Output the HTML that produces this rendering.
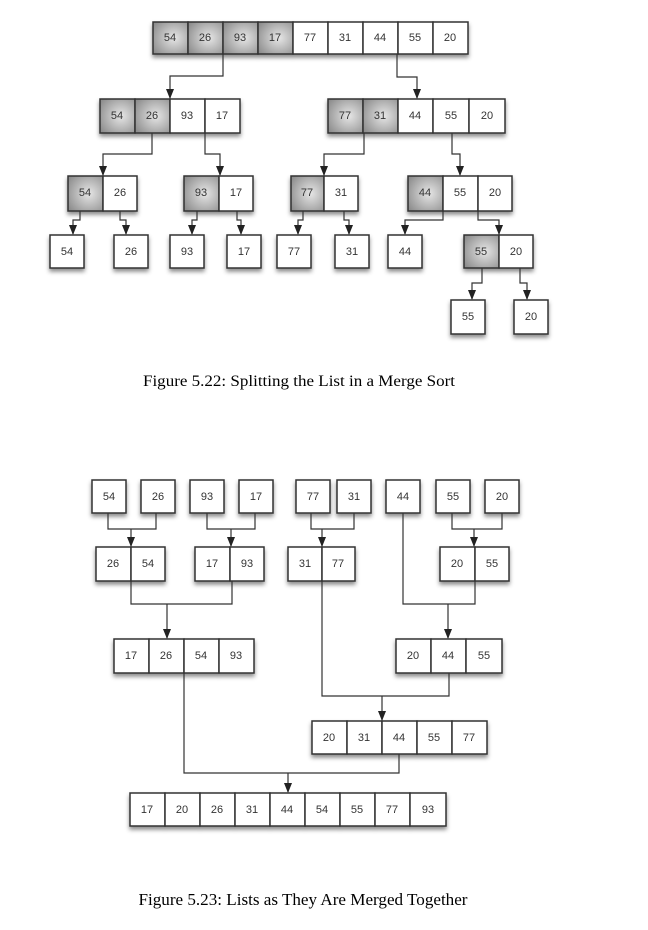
<!DOCTYPE html>
<html><head><meta charset="utf-8"><style>
html,body{margin:0;padding:0;background:#fff;}
svg{display:block;}
.c{stroke:#333;stroke-width:1.5;fill:#fff;}
.s{stroke:#333;stroke-width:1.5;fill:url(#g);}
text{font-family:"Liberation Sans",sans-serif;font-size:11px;fill:#333;text-anchor:middle;dominant-baseline:central;}
.l{fill:none;stroke:#333;stroke-width:1.2;}
.cap{font-family:"Liberation Serif",serif;fill:#000;dominant-baseline:auto;}
.b{filter:url(#sh);}
</style></head><body>
<svg width="648" height="930" viewBox="0 0 648 930" xmlns="http://www.w3.org/2000/svg">
<defs>
<radialGradient id="g" cx="0.6" cy="0.5" r="0.7"><stop offset="0" stop-color="#e6e6e6"/><stop offset="1" stop-color="#8e8e8e"/></radialGradient>
<filter id="sh" x="-10%" y="-10%" width="130%" height="150%"><feDropShadow dx="0" dy="3" stdDeviation="2" flood-color="#000" flood-opacity="0.45"/></filter>
<marker id="a" markerWidth="8" markerHeight="10" refX="4" refY="9" orient="0" markerUnits="userSpaceOnUse"><path d="M0,0 L8,0 L4,10 z" fill="#222"/></marker>
</defs>

<!-- FIGURE 1 -->
<g class="b">
<rect class="s" x="153" y="22" width="35" height="32"/><rect class="s" x="188" y="22" width="35" height="32"/><rect class="s" x="223" y="22" width="35" height="32"/><rect class="s" x="258" y="22" width="35" height="32"/>
<rect class="c" x="293" y="22" width="35" height="32"/><rect class="c" x="328" y="22" width="35" height="32"/><rect class="c" x="363" y="22" width="35" height="32"/><rect class="c" x="398" y="22" width="35" height="32"/><rect class="c" x="433" y="22" width="35" height="32"/>
</g>
<text x="170" y="38">54</text><text x="205" y="38">26</text><text x="240" y="38">93</text><text x="275" y="38">17</text><text x="310" y="38">77</text><text x="345" y="38">31</text><text x="380" y="38">44</text><text x="415" y="38">55</text><text x="450" y="38">20</text>

<path class="l" d="M223,54 V76 H170 V98" marker-end="url(#a)"/>
<path class="l" d="M397,54 V77 H417 V98" marker-end="url(#a)"/>

<g class="b">
<rect class="s" x="100" y="99" width="35" height="34"/><rect class="s" x="135" y="99" width="35" height="34"/><rect class="c" x="170" y="99" width="35" height="34"/><rect class="c" x="205" y="99" width="35" height="34"/>
<rect class="s" x="328" y="99" width="35" height="34"/><rect class="s" x="363" y="99" width="35" height="34"/><rect class="c" x="398" y="99" width="35" height="34"/><rect class="c" x="433" y="99" width="36" height="34"/><rect class="c" x="469" y="99" width="36" height="34"/>
</g>
<text x="117" y="116">54</text><text x="152" y="116">26</text><text x="187" y="116">93</text><text x="222" y="116">17</text>
<text x="345" y="116">77</text><text x="380" y="116">31</text><text x="415" y="116">44</text><text x="451" y="116">55</text><text x="487" y="116">20</text>

<path class="l" d="M152,133 V154 H103 V175" marker-end="url(#a)"/>
<path class="l" d="M205,133 V154 H220 V175" marker-end="url(#a)"/>
<path class="l" d="M364,133 V154 H324 V175" marker-end="url(#a)"/>
<path class="l" d="M452,133 V154 H460 V175" marker-end="url(#a)"/>

<g class="b">
<rect class="s" x="68" y="176" width="35" height="35"/><rect class="c" x="103" y="176" width="34" height="35"/>
<rect class="s" x="184" y="176" width="35" height="35"/><rect class="c" x="219" y="176" width="34" height="35"/>
<rect class="s" x="291" y="176" width="33" height="35"/><rect class="c" x="324" y="176" width="34" height="35"/>
<rect class="s" x="408" y="176" width="35" height="35"/><rect class="c" x="443" y="176" width="35" height="35"/><rect class="c" x="478" y="176" width="34" height="35"/>
</g>
<text x="85" y="193">54</text><text x="120" y="193">26</text><text x="201" y="193">93</text><text x="236" y="193">17</text>
<text x="307" y="193">77</text><text x="341" y="193">31</text><text x="425" y="193">44</text><text x="460" y="193">55</text><text x="495" y="193">20</text>

<path class="l" d="M80,211 V220 H73 V234" marker-end="url(#a)"/>
<path class="l" d="M120,211 V220 H126 V234" marker-end="url(#a)"/>
<path class="l" d="M197,211 V220 H192 V234" marker-end="url(#a)"/>
<path class="l" d="M237,211 V220 H241 V234" marker-end="url(#a)"/>
<path class="l" d="M303,211 V220 H298 V234" marker-end="url(#a)"/>
<path class="l" d="M344,211 V220 H349 V234" marker-end="url(#a)"/>
<path class="l" d="M443,211 V220 H405 V234" marker-end="url(#a)"/>
<path class="l" d="M478,211 V220 H499 V234" marker-end="url(#a)"/>

<g class="b">
<rect class="c" x="50" y="235" width="34" height="33"/><rect class="c" x="114" y="235" width="34" height="33"/><rect class="c" x="170" y="235" width="34" height="33"/><rect class="c" x="227" y="235" width="34" height="33"/><rect class="c" x="277" y="235" width="34" height="33"/><rect class="c" x="335" y="235" width="34" height="33"/><rect class="c" x="388" y="235" width="34" height="33"/>
<rect class="s" x="464" y="235" width="35" height="33"/><rect class="c" x="499" y="235" width="34" height="33"/>
</g>
<text x="67" y="252">54</text><text x="131" y="252">26</text><text x="187" y="252">93</text><text x="244" y="252">17</text><text x="294" y="252">77</text><text x="352" y="252">31</text><text x="405" y="252">44</text><text x="481" y="252">55</text><text x="516" y="252">20</text>

<path class="l" d="M482,268 V283 H472 V299" marker-end="url(#a)"/>
<path class="l" d="M520,268 V283 H527 V299" marker-end="url(#a)"/>

<g class="b">
<rect class="c" x="451" y="300" width="34" height="34"/><rect class="c" x="514" y="300" width="34" height="34"/>
</g>
<text x="468" y="317">55</text><text x="531" y="317">20</text>

<text class="cap" x="299" y="386" style="font-size:16px" textLength="312" lengthAdjust="spacingAndGlyphs">Figure 5.22: Splitting the List in a Merge Sort</text>

<!-- FIGURE 2 -->
<g class="b">
<rect class="c" x="92" y="480" width="34" height="33"/><rect class="c" x="141" y="480" width="34" height="33"/><rect class="c" x="190" y="480" width="34" height="33"/><rect class="c" x="239" y="480" width="34" height="33"/><rect class="c" x="296" y="480" width="34" height="33"/><rect class="c" x="337" y="480" width="34" height="33"/><rect class="c" x="386" y="480" width="34" height="33"/><rect class="c" x="436" y="480" width="34" height="33"/><rect class="c" x="485" y="480" width="34" height="33"/>
</g>
<text x="109" y="497">54</text><text x="158" y="497">26</text><text x="207" y="497">93</text><text x="256" y="497">17</text><text x="313" y="497">77</text><text x="354" y="497">31</text><text x="403" y="497">44</text><text x="453" y="497">55</text><text x="502" y="497">20</text>

<path class="l" d="M108,513 V529 H156 V513"/><path class="l" d="M131,529 V546" marker-end="url(#a)"/>
<path class="l" d="M207,513 V529 H255 V513"/><path class="l" d="M231,529 V546" marker-end="url(#a)"/>
<path class="l" d="M311,513 V529 H354 V513"/><path class="l" d="M322,529 V546" marker-end="url(#a)"/>
<path class="l" d="M452,513 V529 H502 V513"/><path class="l" d="M474,529 V546" marker-end="url(#a)"/>

<g class="b">
<rect class="c" x="96" y="547" width="35" height="34"/><rect class="c" x="131" y="547" width="34" height="34"/>
<rect class="c" x="195" y="547" width="35" height="34"/><rect class="c" x="230" y="547" width="34" height="34"/>
<rect class="c" x="288" y="547" width="34" height="34"/><rect class="c" x="322" y="547" width="33" height="34"/>
<rect class="c" x="440" y="547" width="35" height="34"/><rect class="c" x="475" y="547" width="34" height="34"/>
</g>
<text x="113" y="564">26</text><text x="148" y="564">54</text><text x="212" y="564">17</text><text x="247" y="564">93</text><text x="305" y="564">31</text><text x="338" y="564">77</text><text x="457" y="564">20</text><text x="492" y="564">55</text>

<path class="l" d="M131,581 V604 H232 V581"/><path class="l" d="M167,604 V638" marker-end="url(#a)"/>
<path class="l" d="M403,513 V604 H475 V581"/><path class="l" d="M448,604 V638" marker-end="url(#a)"/>

<g class="b">
<rect class="c" x="114" y="639" width="35" height="34"/><rect class="c" x="149" y="639" width="35" height="34"/><rect class="c" x="184" y="639" width="35" height="34"/><rect class="c" x="219" y="639" width="35" height="34"/>
<rect class="c" x="396" y="639" width="35" height="34"/><rect class="c" x="431" y="639" width="35" height="34"/><rect class="c" x="466" y="639" width="36" height="34"/>
</g>
<text x="131" y="656">17</text><text x="166" y="656">26</text><text x="201" y="656">54</text><text x="236" y="656">93</text><text x="413" y="656">20</text><text x="448" y="656">44</text><text x="484" y="656">55</text>

<path class="l" d="M322,581 V696 H449 V673"/><path class="l" d="M382,696 V720" marker-end="url(#a)"/>

<g class="b">
<rect class="c" x="312" y="721" width="35" height="33"/><rect class="c" x="347" y="721" width="35" height="33"/><rect class="c" x="382" y="721" width="35" height="33"/><rect class="c" x="417" y="721" width="35" height="33"/><rect class="c" x="452" y="721" width="35" height="33"/>
</g>
<text x="329" y="738">20</text><text x="364" y="738">31</text><text x="399" y="738">44</text><text x="434" y="738">55</text><text x="469" y="738">77</text>

<path class="l" d="M184,673 V773 H399 V754"/><path class="l" d="M288,773 V792" marker-end="url(#a)"/>

<g class="b">
<rect class="c" x="130" y="793" width="35" height="33"/><rect class="c" x="165" y="793" width="35" height="33"/><rect class="c" x="200" y="793" width="35" height="33"/><rect class="c" x="235" y="793" width="35" height="33"/><rect class="c" x="270" y="793" width="35" height="33"/><rect class="c" x="305" y="793" width="35" height="33"/><rect class="c" x="340" y="793" width="35" height="33"/><rect class="c" x="375" y="793" width="35" height="33"/><rect class="c" x="410" y="793" width="36" height="33"/>
</g>
<text x="147" y="810">17</text><text x="182" y="810">20</text><text x="217" y="810">26</text><text x="252" y="810">31</text><text x="287" y="810">44</text><text x="322" y="810">54</text><text x="357" y="810">55</text><text x="392" y="810">77</text><text x="428" y="810">93</text>

<text class="cap" x="303" y="905" style="font-size:16.5px" textLength="329" lengthAdjust="spacingAndGlyphs">Figure 5.23: Lists as They Are Merged Together</text>
</svg>
</body></html>
